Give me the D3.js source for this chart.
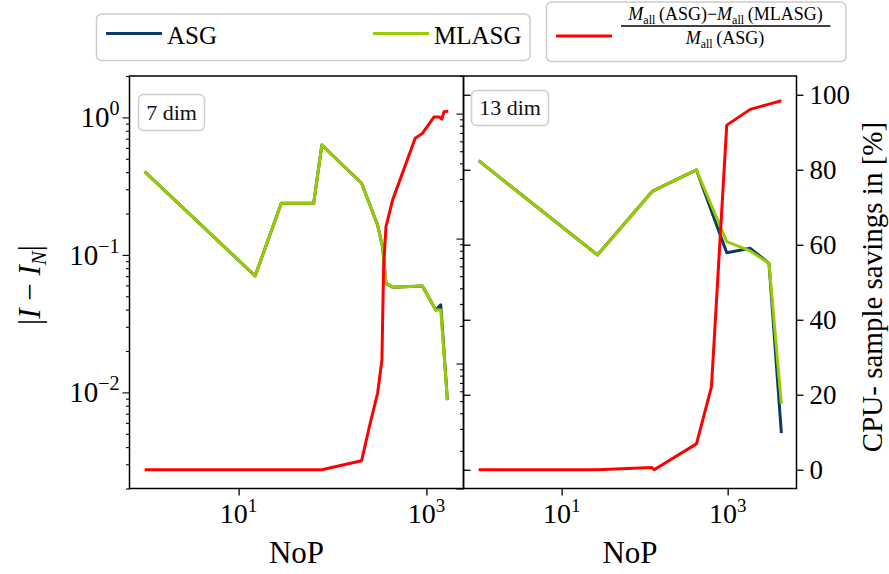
<!DOCTYPE html>
<html><head><meta charset="utf-8">
<script src="https://cdn.jsdelivr.net/npm/d3@7"></script>
<style>
body{margin:0;background:#fff}
svg{font-family:"Liberation Serif","DejaVu Serif",serif;}
</style>
</head><body>
<svg id="c" width="889" height="574"></svg>
<script>
// ---------- data ----------
// 7 dim panel
const nop7    = [1, 15, 28.5, 63, 77, 204, 302, 341, 371, 436, 907, 1259, 1422, 1672];
const asg7    = [0.403, 0.0703, 0.237, 0.237, 0.63, 0.332, 0.165, 0.115, 0.0621, 0.0581, 0.0594, 0.0397, 0.0433, 0.0088];
const mlasg7  = [0.403, 0.0703, 0.237, 0.237, 0.63, 0.332, 0.165, 0.115, 0.0621, 0.0581, 0.0594, 0.0397, 0.0397, 0.0088];
const nopSav7 = [1, 15, 28.5, 63, 77, 204, 247, 302, 336, 350, 371, 395, 436, 556, 759, 907, 1205, 1363, 1458, 1541, 1711];
const sav7    = [0, 0, 0, 0, 0, 2.4, 11.5, 20.4, 29.3, 54.1, 64.8, 67.5, 71.9, 79.1, 88.4, 89.7, 94.1, 94.1, 93.5, 95.5, 95.6];
// 13 dim panel
const nop13    = [1, 27, 124.5, 421, 975, 1871, 3148, 4436];
const asg13    = [0.42, 0.074, 0.240, 0.354, 0.0771, 0.0836, 0.0634, 0.00277];
const mlasg13  = [0.42, 0.074, 0.240, 0.354, 0.0944, 0.0796, 0.0634, 0.00475];
const nopSav13 = [1, 27, 122, 130, 421, 638, 975, 1871, 2930, 4436];
const sav13    = [0, 0, 0.6, 0, 6.9, 22.1, 91.9, 96.1, 97.3, 98.4];
// ticks
const xTickVals = [10, 1000];
const xTickExp  = ["1", "3"];
const yMajor7   = [1, 0.1, 0.01];
const yMajorExp = ["0", "\u22121", "\u22122"];
const pctTicks  = [0, 20, 40, 60, 80, 100];
const seriesNames = ["ASG", "MLASG"];

// ---------- layout ----------
const TOP = 76, BOT = 488.5;
const C_ASG = "#0b3a68", C_ML = "#99cc00", C_RED = "#ff0000";
const svg = d3.select("#c");

const panels = [
  {x0:129.5, x1:463.5, nop:nop7,  asg:asg7,  ml:mlasg7,  nopS:nopSav7,  sav:sav7,  ydom:[0.002, 2], label:"7 dim",  box:{x:138.5,y:94.5,w:66,h:36}, leftLabels:true},
  {x0:463.5, x1:796.5, nop:nop13, asg:asg13, ml:mlasg13, nopS:nopSav13, sav:sav13, ydom:[0.001, 2], label:"13 dim", box:{x:471.5,y:90.5,w:77,h:35}, leftLabels:false}
];

function minorTicks(dom){
  const out=[];
  const lo=Math.floor(Math.log10(dom[0]))-1, hi=Math.ceil(Math.log10(dom[1]));
  for(let k=lo;k<=hi;k++) for(let m=2;m<=9;m++){ const v=m*Math.pow(10,k); if(v>=dom[0]*0.999 && v<=dom[1]*1.001) out.push(v);}
  return out;
}
function majorTicks(dom){
  const out=[];
  for(let k=-6;k<=3;k++){const v=Math.pow(10,k); if(v>=dom[0]*0.999 && v<=dom[1]*1.001) out.push(v);}
  return out;
}

panels.forEach((P,i)=>{
  const allX = P.nop.concat(P.nopS);
  const lo = Math.log10(d3.min(allX)), hi = Math.log10(d3.max(allX)), m = 0.05*(hi-lo);
  const x = d3.scaleLog().domain([Math.pow(10,lo-m), Math.pow(10,hi+m)]).range([P.x0, P.x1]);
  const y = d3.scaleLog().domain(P.ydom).range([BOT, TOP]);
  const p = d3.scaleLinear().domain([-5, 105]).range([BOT, TOP]);

  const clipId = "clip"+i;
  svg.append("clipPath").attr("id",clipId).append("rect")
    .attr("x",P.x0).attr("y",TOP).attr("width",P.x1-P.x0).attr("height",BOT-TOP);

  const g = svg.append("g").attr("clip-path",`url(#${clipId})`);
  const line = d3.line().x(d=>x(d[0])).y(d=>y(d[1]));
  const lineP = d3.line().x(d=>x(d[0])).y(d=>p(d[1]));
  g.append("path").attr("d", line(P.nop.map((v,j)=>[v,P.asg[j]])))
    .attr("fill","none").attr("stroke",C_ASG).attr("stroke-width",3).attr("stroke-linejoin","round");
  g.append("path").attr("d", line(P.nop.map((v,j)=>[v,P.ml[j]])))
    .attr("fill","none").attr("stroke",C_ML).attr("stroke-width",3).attr("stroke-linejoin","round");
  g.append("path").attr("d", lineP(P.nopS.map((v,j)=>[v,P.sav[j]])))
    .attr("fill","none").attr("stroke",C_RED).attr("stroke-width",3).attr("stroke-linejoin","round");

  // x axis
  const xa = svg.append("g").attr("transform",`translate(0,${BOT})`)
    .call(d3.axisBottom(x).tickValues(xTickVals).tickSize(7).tickFormat(""));
  xa.select(".domain").remove();
  xa.selectAll("line").attr("stroke","#000").attr("stroke-width",1.3);
  xTickVals.forEach((v,j)=>{
    const t = svg.append("text").attr("x",x(v)).attr("y",BOT+34).attr("text-anchor","middle")
      .attr("font-size",28).attr("fill","#000");
    t.append("tspan").text("10");
    t.append("tspan").attr("dy",-11).attr("font-size",19).text(xTickExp[j]);
  });

  // left log axis
  const ya = svg.append("g").attr("transform",`translate(${P.x0},0)`)
    .call(d3.axisLeft(y).tickValues(majorTicks(P.ydom)).tickSize(7).tickFormat(""));
  const yam = svg.append("g").attr("transform",`translate(${P.x0},0)`)
    .call(d3.axisLeft(y).tickValues(minorTicks(P.ydom)).tickSize(3.5).tickFormat(""));
  [ya,yam].forEach(a=>{a.select(".domain").remove(); a.selectAll("line").attr("stroke","#000").attr("stroke-width",1.1);});
  if(P.leftLabels){
    yMajor7.forEach((v,j)=>{
      const t = svg.append("text").attr("x",P.x0-10).attr("y",y(v)+10).attr("text-anchor","end")
        .attr("font-size",29).attr("fill","#000");
      t.append("tspan").text("10");
      t.append("tspan").attr("dy",-12).attr("font-size",20).text(yMajorExp[j]);
    });
  }

  // right percent axis
  const pa = svg.append("g").attr("transform",`translate(${P.x1},0)`)
    .call(d3.axisRight(p).tickValues(pctTicks).tickSize(7).tickFormat(i===1 ? d3.format("d") : ""));
  pa.select(".domain").remove();
  pa.selectAll("line").attr("stroke","#000").attr("stroke-width",1.3);
  pa.selectAll("text").attr("font-size",27).attr("font-family","Liberation Serif").attr("fill","#000")
    .attr("x",13).attr("dy","0.33em");

  // frame
  svg.append("rect").attr("x",P.x0).attr("y",TOP).attr("width",P.x1-P.x0).attr("height",BOT-TOP)
    .attr("fill","none").attr("stroke","#000").attr("stroke-width",1.5);

  // panel label box
  svg.append("rect").attr("x",P.box.x).attr("y",P.box.y).attr("width",P.box.w).attr("height",P.box.h)
    .attr("rx",5).attr("fill","#fff").attr("stroke","#cfcfcf").attr("stroke-width",1.5);
  svg.append("text").attr("x",P.box.x+P.box.w/2).attr("y",P.box.y+P.box.h/2+7).attr("text-anchor","middle")
    .attr("font-size",22).attr("fill","#111").text(P.label);

  // x label
  svg.append("text").attr("x",(P.x0+P.x1)/2).attr("y",563).attr("text-anchor","middle")
    .attr("font-size",31).attr("fill","#000").text("NoP");
});

// y labels
const yl = svg.append("text").attr("transform","translate(40,285) rotate(-90)").attr("text-anchor","middle")
  .attr("font-size",31).attr("fill","#000");
yl.append("tspan").text("|");
yl.append("tspan").attr("font-style","italic").text("I");
yl.append("tspan").text(" \u2212 ");
yl.append("tspan").attr("font-style","italic").text("I");
yl.append("tspan").attr("font-style","italic").attr("font-size",21).attr("dy",6).text("N");
yl.append("tspan").attr("dy",-6).text("|");

svg.append("text").attr("transform","translate(882,287) rotate(-90)").attr("text-anchor","middle")
  .attr("font-size",29).attr("fill","#000").text("CPU- sample savings in [%]");

// ---------- legends ----------
svg.append("rect").attr("x",96.5).attr("y",14).attr("width",433.5).attr("height",46.5)
  .attr("rx",5).attr("fill","#fff").attr("stroke","#cccccc").attr("stroke-width",1.5);
const legItems = [{x:106, c:C_ASG}, {x:373, c:C_ML}];
legItems.forEach((L,j)=>{
  svg.append("line").attr("x1",L.x).attr("x2",L.x+56).attr("y1",33.5).attr("y2",33.5)
    .attr("stroke",L.c).attr("stroke-width",3);
  svg.append("text").attr("x",L.x+61).attr("y",43.5).attr("font-size",25).attr("fill","#000").text(seriesNames[j]);
});

svg.append("rect").attr("x",546.5).attr("y",2).attr("width",299.5).attr("height",59.5)
  .attr("rx",5).attr("fill","#fff").attr("stroke","#cccccc").attr("stroke-width",1.5);
svg.append("line").attr("x1",556).attr("x2",612).attr("y1",36).attr("y2",36)
  .attr("stroke",C_RED).attr("stroke-width",3);
function mall(t){
  t.append("tspan").attr("font-style","italic").text("M");
  t.append("tspan").attr("font-size",12).attr("dy",4).text("all");
  return t;
}
const num = svg.append("text").attr("x",725.5).attr("y",20).attr("text-anchor","middle").attr("font-size",18).attr("fill","#000");
mall(num); num.append("tspan").attr("dy",-4).text("\u2009(ASG)\u2212"); mall(num); num.append("tspan").attr("dy",-4).text("\u2009(MLASG)");
svg.append("line").attr("x1",621).attr("x2",830.5).attr("y1",26).attr("y2",26).attr("stroke","#000").attr("stroke-width",1.6);
const den = svg.append("text").attr("x",725).attr("y",44).attr("text-anchor","middle").attr("font-size",18).attr("fill","#000");
mall(den); den.append("tspan").attr("dy",-4).text("\u2009(ASG)");
</script>
</body></html>
